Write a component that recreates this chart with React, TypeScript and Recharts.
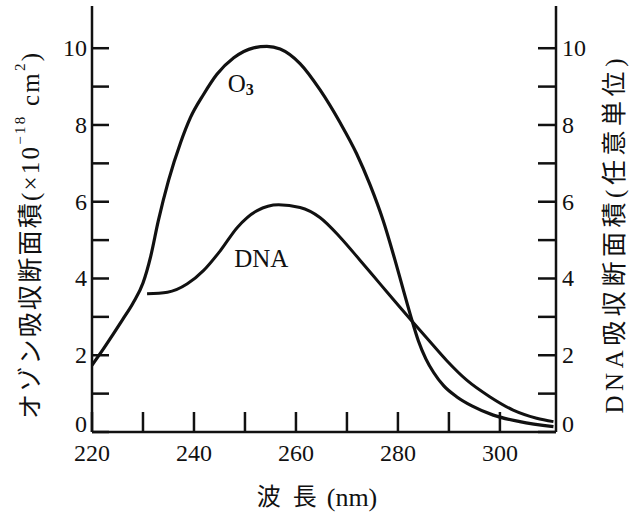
import React from 'react';
import { LineChart, Line, XAxis, YAxis, ReferenceDot, Label } from 'recharts';

// wavelength (nm) axis
const wavelengthTicks = [220, 230, 240, 250, 260, 270, 280, 290, 300];
const absorptionTicks = [0, 1, 2, 3, 4, 5, 6, 7, 8, 9, 10];

// ozone absorption cross section (x10^-18 cm^2)
const ozoneNm = [220, 222, 224, 226, 228, 230, 231.5, 233, 235, 237.4, 239.3, 241.9, 244.5, 247.8, 251.7, 254.3, 256.9, 260.8, 264.7, 268.7, 271.9, 274.5, 277.1, 279.4, 281, 282.6, 284, 285.5, 287, 289, 291.5, 294.5, 298.7, 303.9, 310.5];
const ozoneValue = [1.74, 2.12, 2.52, 2.93, 3.35, 3.88, 4.57, 5.5, 6.55, 7.55, 8.19, 8.8, 9.32, 9.75, 10.01, 10.05, 9.98, 9.6, 8.92, 8.05, 7.25, 6.45, 5.51, 4.49, 3.73, 2.98, 2.38, 1.9, 1.55, 1.2, 0.92, 0.68, 0.44, 0.27, 0.14];

// DNA absorption (arbitrary units)
const dnaNm = [230.8, 234.8, 238.7, 241.9, 245.2, 248.5, 252.4, 256.6, 260.8, 264.7, 268.7, 272.6, 276.5, 280.4, 282.6, 286.3, 289.5, 293.5, 298, 302.6, 307.2, 310.5];
const dnaValue = [3.6, 3.64, 3.86, 4.21, 4.73, 5.33, 5.77, 5.92, 5.85, 5.59, 5.07, 4.47, 3.86, 3.25, 2.91, 2.35, 1.87, 1.35, 0.92, 0.57, 0.36, 0.27];

const ozoneData = ozoneNm.map((nm, i) => ({ nm, v: ozoneValue[i] }));
const dnaData = dnaNm.map((nm, i) => ({ nm, v: dnaValue[i] }));

const INK = '#111';
const FONT = '"Liberation Serif", "DejaVu Serif", "Noto Sans CJK JP", serif';

// x labels every 20 nm, like the print
const XTick = (props: any) => {
  const { x, y, payload } = props;
  if (payload.value % 20 !== 0) return null;
  return (
    <text x={x} y={y} textAnchor="middle" dominantBaseline="hanging" fill={INK} style={{ fontFamily: FONT, fontSize: 24 }}>
      {payload.value}
    </text>
  );
};

// y tick labels: even values only, the zero lifted a little as in the print
const YTick = (side: 'left' | 'right') => (props: any) => {
  const { x, y, payload } = props;
  if (payload.value % 2 !== 0) return null;
  const lift = payload.value === 0 ? -8 : 0;
  return (
    <text
      x={x}
      y={y + lift}
      textAnchor={side === 'left' ? 'end' : 'start'}
      dominantBaseline="central"
      fill={INK}
      style={{ fontFamily: FONT, fontSize: 24 }}
    >
      {payload.value}
    </text>
  );
};

const LeftTitle = (props: any) => {
  const { viewBox } = props;
  const cx = viewBox.x + 10;
  const cy = viewBox.y + viewBox.height / 2 + 17;
  return (
    <text
      x={cx}
      y={cy}
      transform={`rotate(-90 ${cx} ${cy})`}
      textAnchor="middle"
      dominantBaseline="central"
      fill={INK}
      style={{ fontFamily: FONT, fontSize: 25 }}
      textLength={366}
      lengthAdjust="spacing"
    >
      オゾン吸収断面積(×10
      <tspan fontSize={15} dy={-10}>−18</tspan>
      <tspan dy={10}> cm</tspan>
      <tspan fontSize={15} dy={-10}>2</tspan>
      <tspan dy={10}>)</tspan>
    </text>
  );
};

const RightTitle = (props: any) => {
  const { viewBox } = props;
  const cx = viewBox.x + viewBox.width - 2;
  const cy = viewBox.y + viewBox.height / 2 + 17;
  return (
    <text
      x={cx}
      y={cy}
      transform={`rotate(-90 ${cx} ${cy})`}
      textAnchor="middle"
      dominantBaseline="central"
      fill={INK}
      style={{ fontFamily: FONT, fontSize: 25 }}
      textLength={355}
      lengthAdjust="spacing"
    >
      DNA吸収断面積(任意単位)
    </text>
  );
};

const BottomTitle = (props: any) => {
  const { viewBox } = props;
  const cx = viewBox.x + viewBox.width / 2 - 7;
  const cy = viewBox.y + 65;
  return (
    <text x={cx} y={cy} textAnchor="middle" dominantBaseline="central" fill={INK} style={{ fontFamily: FONT, fontSize: 24 }}>
      波<tspan dx={12}>長</tspan>
      <tspan dx={10} fontSize={26}>(nm)</tspan>
    </text>
  );
};

const OzoneTag = (props: any) => {
  const { viewBox } = props;
  return (
    <text x={viewBox.cx ?? viewBox.x} y={viewBox.cy ?? viewBox.y} textAnchor="start" dominantBaseline="central" fill={INK} style={{ fontFamily: FONT, fontSize: 25 }}>
      O<tspan fontSize={16} fontWeight="bold" dy={5}>3</tspan>
    </text>
  );
};

const DnaTag = (props: any) => {
  const { viewBox } = props;
  return (
    <text x={viewBox.cx ?? viewBox.x} y={viewBox.cy ?? viewBox.y} textAnchor="middle" dominantBaseline="central" fill={INK} style={{ fontFamily: FONT, fontSize: 25 }}>
      DNA
    </text>
  );
};

export default function App() {
  return (
    <div style={{ position: 'absolute', left: 0, top: 0, width: 635, height: 513, background: '#fff', fontFamily: FONT }}>
      <LineChart width={635} height={513} margin={{ top: 6, right: 19, bottom: 41, left: 20 }}>
        <XAxis
          dataKey="nm"
          type="number"
          domain={[220, 311]}
          ticks={wavelengthTicks}
          allowDataOverflow
          interval={0}
          height={40}
          axisLine={{ stroke: INK, strokeWidth: 2.5 }}
          tickLine={{ stroke: INK, strokeWidth: 2.5 }}
          tickSize={-20}
          tickMargin={32}
          tick={XTick}
        >
          <Label content={BottomTitle} />
        </XAxis>
        <XAxis
          xAxisId="top"
          orientation="top"
          type="number"
          domain={[220, 311]}
          height={0}
          tick={false}
          tickLine={false}
          axisLine={{ stroke: INK, strokeWidth: 2.5 }}
        />
        <YAxis
          yAxisId="left"
          type="number"
          domain={[0, 11.1]}
          ticks={absorptionTicks}
          interval={0}
          width={72}
          axisLine={{ stroke: INK, strokeWidth: 2.5 }}
          tickLine={{ stroke: INK, strokeWidth: 2.5 }}
          tickSize={-17}
          tickMargin={22}
          tick={YTick('left')}
        >
          <Label content={LeftTitle} />
        </YAxis>
        <YAxis
          yAxisId="right"
          orientation="right"
          type="number"
          domain={[0, 11.1]}
          ticks={absorptionTicks}
          interval={0}
          width={60}
          axisLine={{ stroke: INK, strokeWidth: 2.5 }}
          tickLine={{ stroke: INK, strokeWidth: 2.5 }}
          tickSize={-18}
          tickMargin={24}
          tick={YTick('right')}
        >
          <Label content={RightTitle} />
        </YAxis>
        <Line
          yAxisId="left"
          data={ozoneData}
          dataKey="v"
          type="monotone"
          stroke={INK}
          strokeWidth={3.2}
          dot={false}
          isAnimationActive={false}
        />
        <Line
          yAxisId="right"
          data={dnaData}
          dataKey="v"
          type="monotone"
          stroke={INK}
          strokeWidth={3}
          dot={false}
          isAnimationActive={false}
        />
        <ReferenceDot yAxisId="left" x={246.6} y={9.08} r={0} stroke="none" fill="none">
          <Label content={OzoneTag} />
        </ReferenceDot>
        <ReferenceDot yAxisId="right" x={253.2} y={4.53} r={0} stroke="none" fill="none">
          <Label content={DnaTag} />
        </ReferenceDot>
      </LineChart>
    </div>
  );
}
